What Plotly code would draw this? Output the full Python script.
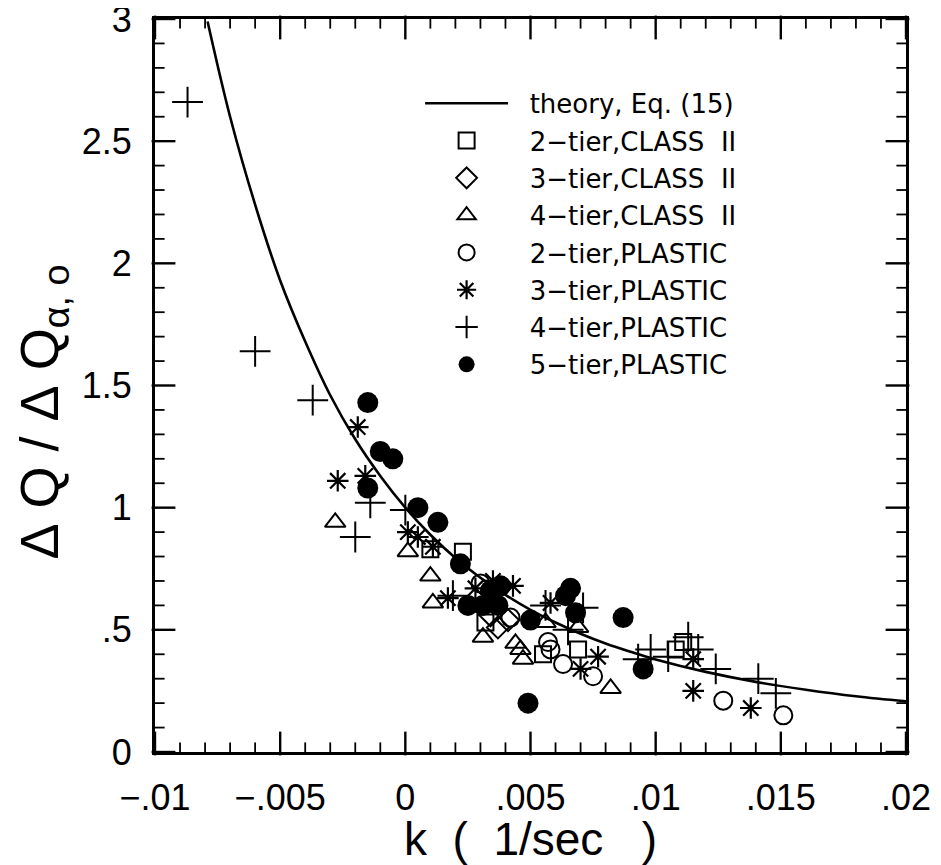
import plotly.graph_objects as go

# theory curve, Eq. (15)
theory_k = [-0.0079, -0.007, -0.006, -0.005, -0.004, -0.003, -0.002, -0.001, 0.0,
            0.001, 0.002, 0.003, 0.004, 0.005, 0.006, 0.007, 0.008, 0.009, 0.010,
            0.012, 0.014, 0.016, 0.018, 0.020]
theory_q = [2.99, 2.60, 2.24, 1.93, 1.68, 1.46, 1.28, 1.13, 1.00,
            0.889, 0.794, 0.713, 0.643, 0.582, 0.530, 0.484, 0.444, 0.410, 0.379,
            0.328, 0.287, 0.255, 0.228, 0.207]

sq2_k = [0.0010, 0.0023, 0.0032, 0.0055, 0.0069, 0.0108, 0.0111]
sq2_q = [0.83, 0.82, 0.53, 0.40, 0.42, 0.42, 0.45]

dia3_k = [0.0037, 0.0041, 0.0034]
dia3_q = [0.51, 0.54, 0.56]

tri4_k = [-0.0028, 0.0001, 0.0010, 0.0011, 0.0031, 0.0044, 0.0046, 0.0047, 0.0056, 0.0069, 0.0082]
tri4_q = [0.94, 0.82, 0.72, 0.61, 0.47, 0.445, 0.42, 0.38, 0.53, 0.51, 0.26]

cir2_k = [0.0030, 0.0042, 0.0057, 0.0058, 0.0063, 0.0075, 0.0127, 0.0151]
cir2_q = [0.69, 0.55, 0.45, 0.42, 0.36, 0.31, 0.21, 0.15]

ast3_k = [-0.0019, -0.0027, -0.0016, 0.0001, 0.0005, 0.0011, 0.0017, 0.0028, 0.0035,
          0.0043, 0.0058, 0.0077, 0.0070, 0.0115, 0.0115, 0.0138]
ast3_q = [1.33, 1.11, 1.13, 0.90, 0.88, 0.84, 0.63, 0.67, 0.70,
          0.68, 0.61, 0.39, 0.34, 0.38, 0.25, 0.18]

plus4_k = [-0.0087, -0.0060, -0.0037, -0.0014, 0.0000, -0.0020, 0.0019, 0.0056, 0.0071,
           0.0065, 0.0093, 0.0098, 0.0105, 0.0113, 0.0117, 0.0124, 0.0141, 0.0148]
plus4_q = [2.66, 1.64, 1.44, 1.02, 0.99, 0.88, 0.64, 0.60, 0.59,
           0.50, 0.38, 0.42, 0.39, 0.47, 0.42, 0.34, 0.30, 0.24]

fill5_k = [-0.0015, -0.0010, -0.0005, -0.0015, 0.0005, 0.0013, 0.0022, 0.0025, 0.0031,
           0.0034, 0.0038, 0.0037, 0.0050, 0.0049, 0.0064, 0.0066, 0.0068, 0.0087, 0.0095]
fill5_q = [1.43, 1.23, 1.20, 1.08, 1.00, 0.94, 0.77, 0.60, 0.60,
           0.66, 0.68, 0.60, 0.54, 0.20, 0.64, 0.67, 0.57, 0.55, 0.34]

x_ticks = [-0.01, -0.005, 0, 0.005, 0.01, 0.015, 0.02]
x_tick_text = ["\u2212.01", "\u2212.005", "0", ".005", ".01", ".015", ".02"]
y_ticks = [0, 0.5, 1, 1.5, 2, 2.5, 3]
y_tick_text = ["0", ".5", "1", "1.5", "2", "2.5", "3"]

X_RANGE = [-0.01, 0.02]
Y_RANGE = [0, 3]
X_MINOR = 0.001
Y_MINOR = 0.1

# figure geometry (the page body has an 8px margin, so the figure fits the window)
FIG_W, FIG_H = 933, 857
M_L, M_R, M_T, M_B = 147, 35, 11, 113
PLOT_W = FIG_W - M_L - M_R
PLOT_H = FIG_H - M_T - M_B

FONT = "Liberation Sans Narrow, Liberation Sans, sans-serif"
TITLEFONT = "Liberation Sans, sans-serif"
LEGFONT = "DejaVu Sans, sans-serif"
BLACK = "black"
NB = "\u00a0"

fig = go.Figure()

# inside tick marks on all four sides, drawn as line-shaped markers
px_x = (X_RANGE[1] - X_RANGE[0]) / PLOT_W   # axis units per pixel
px_y = (Y_RANGE[1] - Y_RANGE[0]) / PLOT_H

def is_major(v, majors):
    return any(abs(v - m) < 1e-9 for m in majors)

x_minor_vals = [round(X_RANGE[0] + i * X_MINOR, 6)
                for i in range(int(round((X_RANGE[1] - X_RANGE[0]) / X_MINOR)) + 1)]
y_minor_vals = [round(Y_RANGE[0] + i * Y_MINOR, 6)
                for i in range(int(round((Y_RANGE[1] - Y_RANGE[0]) / Y_MINOR)) + 1)]

for major, L, w in ((True, 17, 2.4), (False, 8, 1.8)):
    xv = [v for v in x_minor_vals if is_major(v, x_ticks) == major]
    yv = [v for v in y_minor_vals if is_major(v, y_ticks) == major]
    half_y = L / 2 * px_y
    half_x = L / 2 * px_x
    # bottom and top ticks
    fig.add_trace(go.Scatter(
        x=xv + xv, y=[Y_RANGE[0] + half_y] * len(xv) + [Y_RANGE[1] - half_y] * len(xv),
        mode="markers", showlegend=False, hoverinfo="skip", cliponaxis=False,
        marker=dict(symbol="line-ns-open", size=L, color=BLACK,
                    line=dict(color=BLACK, width=w))))
    # left and right ticks
    fig.add_trace(go.Scatter(
        x=[X_RANGE[0] + half_x] * len(yv) + [X_RANGE[1] - half_x] * len(yv), y=yv + yv,
        mode="markers", showlegend=False, hoverinfo="skip", cliponaxis=False,
        marker=dict(symbol="line-ew-open", size=L, color=BLACK,
                    line=dict(color=BLACK, width=w))))

fig.add_trace(go.Scatter(x=theory_k, y=theory_q, mode="lines", line_shape="spline",
                         line=dict(color=BLACK, width=2.6),
                         name=NB * 2 + "theory," + NB + "Eq." + NB + "(15)", legendgroup="a"))

def add_pts(k, q, symbol, size, name, grp, lw=2):
    fig.add_trace(go.Scatter(
        x=k, y=q, mode="markers", name=NB * 2 + name, legendgroup=grp,
        marker=dict(symbol=symbol, size=size, color=BLACK,
                    line=dict(color=BLACK, width=lw))))

add_pts(sq2_k, sq2_q, "square-open", 16, "2\u2212tier,CLASS" + NB + NB + "II", "b")
add_pts(dia3_k, dia3_q, "diamond-open", 17, "3\u2212tier,CLASS" + NB + NB + "II", "c")
add_pts(tri4_k, tri4_q, "triangle-up-open", 18, "4\u2212tier,CLASS" + NB + NB + "II", "d")
add_pts(cir2_k, cir2_q, "circle-open", 18, "2\u2212tier,PLASTIC", "e")
add_pts(ast3_k, ast3_q, "asterisk-open", 18, "3\u2212tier,PLASTIC", "f", lw=2.2)
add_pts(plus4_k, plus4_q, "cross-thin-open", 22, "4\u2212tier,PLASTIC", "g", lw=2)
add_pts(fill5_k, fill5_q, "circle", 21, "5\u2212tier,PLASTIC", "h", lw=0)

# axes: labels and box line; transparent outside ticks give the label offset
fig.update_layout(
    xaxis=dict(
        range=X_RANGE, tickmode="array", tickvals=x_ticks, ticktext=x_tick_text,
        showline=True, linecolor=BLACK, linewidth=2.8, mirror=True,
        ticks="outside", ticklen=12, tickcolor="rgba(0,0,0,0)",
        showgrid=False, zeroline=False, automargin=False, ticklabeloverflow="allow",
        tickfont=dict(family=FONT, size=36, color=BLACK),
        title=dict(text="k" + NB * 2 + "(" + NB * 2 + "1/sec" + NB * 3 + ")",
                   font=dict(family=TITLEFONT, size=46, color=BLACK), standoff=21),
    ),
    yaxis=dict(
        range=Y_RANGE, tickmode="array", tickvals=y_ticks, ticktext=y_tick_text,
        showline=True, linecolor=BLACK, linewidth=2.8, mirror=True,
        ticks="outside", ticklen=13, tickcolor="rgba(0,0,0,0)",
        showgrid=False, zeroline=False, automargin=False, ticklabeloverflow="allow",
        tickfont=dict(family=FONT, size=36, color=BLACK),
    ),
)

# y-axis title as a rotated annotation so it can be centred like the reference
fig.add_annotation(
    text="\u0394" + NB + "Q" + NB + "/" + NB + "\u0394" + NB + "Q<sub>\u03b1," + NB + "o</sub>",
    xref="paper", yref="paper", x=0, y=0.5, xshift=-113, yshift=-27,
    xanchor="center", yanchor="middle", textangle=-90, showarrow=False,
    font=dict(family=TITLEFONT, size=54, color=BLACK))

fig.update_layout(
    width=FIG_W, height=FIG_H,
    margin=dict(l=M_L, r=M_R, t=M_T, b=M_B),
    paper_bgcolor="white", plot_bgcolor="white",
    showlegend=True,
    legend=dict(x=0.353, y=0.917, xanchor="left", yanchor="top",
                font=dict(family=LEGFONT, size=26, color=BLACK),
                bgcolor="rgba(0,0,0,0)", itemwidth=83, tracegroupgap=0.5,
                itemsizing="trace"),
)

fig.write_html("out.html")
